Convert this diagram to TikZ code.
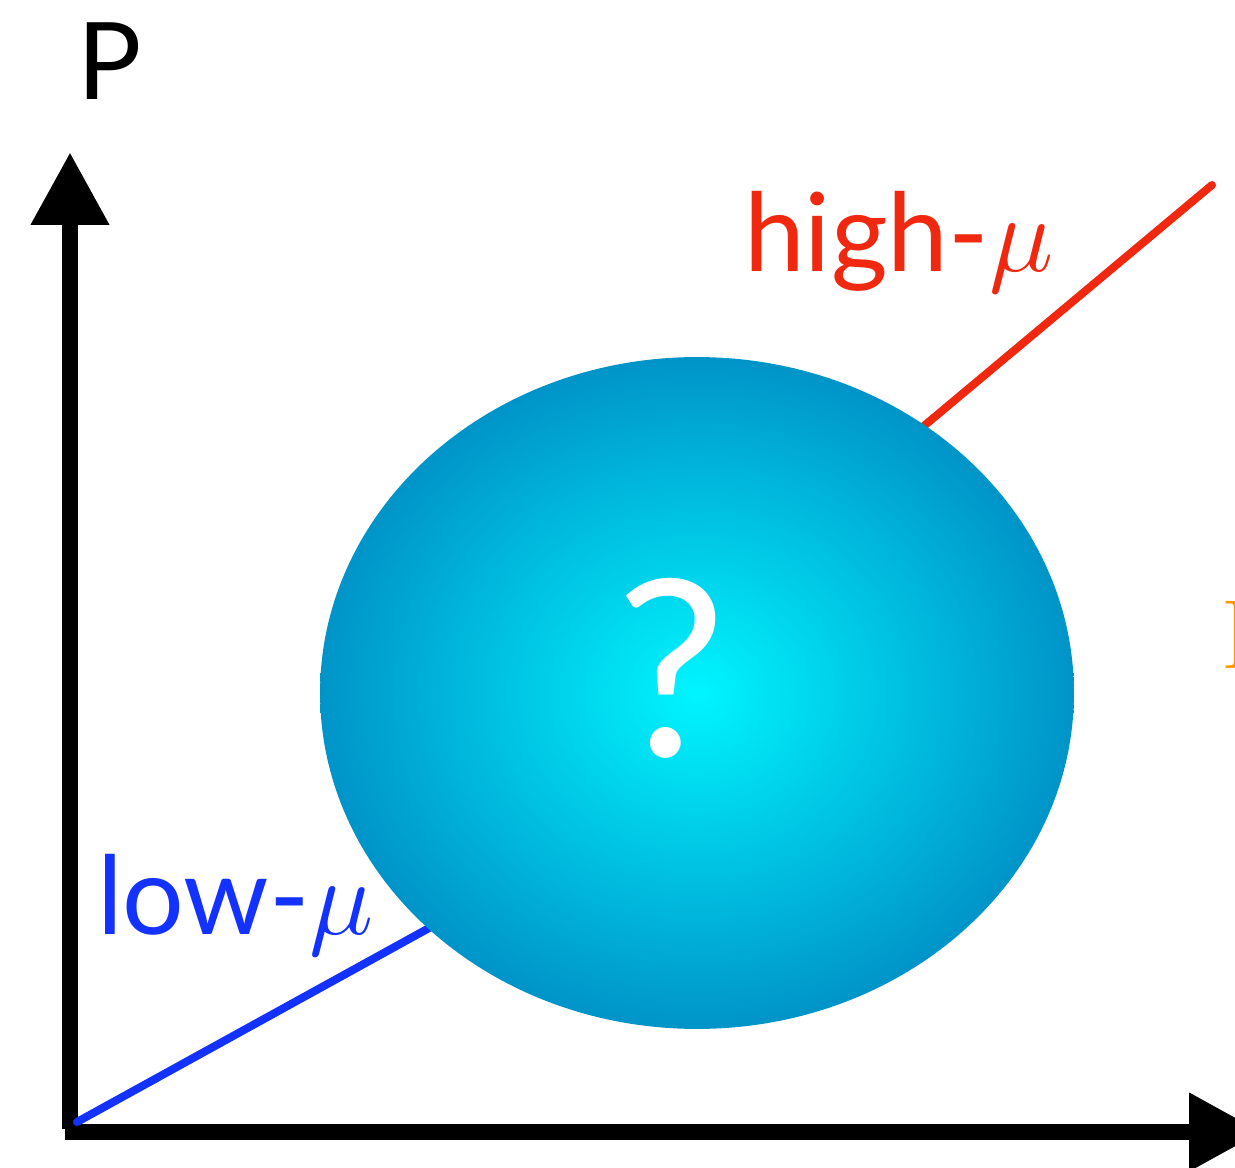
\RequirePackage{fix-cm}
\documentclass[tikz,border=0pt]{standalone}
\usepackage{amsmath}
\usepackage{fontspec}
\setsansfont{Lato}
\usetikzlibrary{arrows.meta,shapes.geometric,decorations.pathmorphing}

\definecolor{lowblue}{RGB}{20,50,255}
\definecolor{highred}{RGB}{240,40,15}
\definecolor{bubblein}{RGB}{0,245,255}
\definecolor{bubbleout}{RGB}{0,148,200}
\definecolor{cutorange}{RGB}{255,150,0}

\begin{document}
\begin{tikzpicture}[x=0.02cm,y=-0.02cm,
    axis/.style={line width=0.34cm, -{Triangle[width=1.48cm,length=1.46cm]}},
    branch/.style={line width=0.16cm, line cap=round},
    rough/.style={line width=0.07cm, decorate,
      decoration={random steps,segment length=3pt,amplitude=1.2pt}},
    label/.style={font=\sffamily\fontsize{62}{62}\selectfont, anchor=base west}]
  \clip (0,0) rectangle (1235,1168);

  % Axes
  \coordinate (origin) at (70,1129);
  \coordinate (ytip) at (70,152);
  \coordinate (xstart) at (65,1132);
  \coordinate (xtip) at (1262,1132);
  \draw[axis] (origin) -- (ytip);
  \draw[axis] (xstart) -- (xtip);
  \node[font=\sffamily\fontsize{61}{61}\selectfont, anchor=base] (plabel) at (110,100) {P};

  % Branches
  \coordinate (lowstart) at (77,1122);
  \coordinate (lowend) at (440,922);
  \coordinate (highstart) at (900,446);
  \coordinate (highend) at (1212,185);
  \draw[branch, lowblue] (lowstart) -- (lowend);
  \draw[rough, lowblue] (lowstart) -- (lowend);
  \draw[branch, highred] (highstart) -- (highend);
  \draw[rough, highred] (highstart) -- (highend);

  % Unknown region
  \node[ellipse, minimum width=15.08cm, minimum height=13.44cm, inner sep=0pt,
    shading=radial, inner color=bubblein, outer color=bubbleout] (phase) at (697,693) {};
  \node[font=\sffamily\fontsize{140}{140}\selectfont, text=white, anchor=base] (qmark) at (672,757) {?};

  % Labels
  \node[label, text=highred] (highlabel) at (738,272) {high-$\mu$};
  \node[label, text=lowblue] (lowlabel) at (91,935) {low-$\mu$};
  \node[font=\fontsize{56}{56}\selectfont, text=cutorange, anchor=base west, inner sep=0pt] (cut) at (1221,669) {I};
\end{tikzpicture}
\end{document}
